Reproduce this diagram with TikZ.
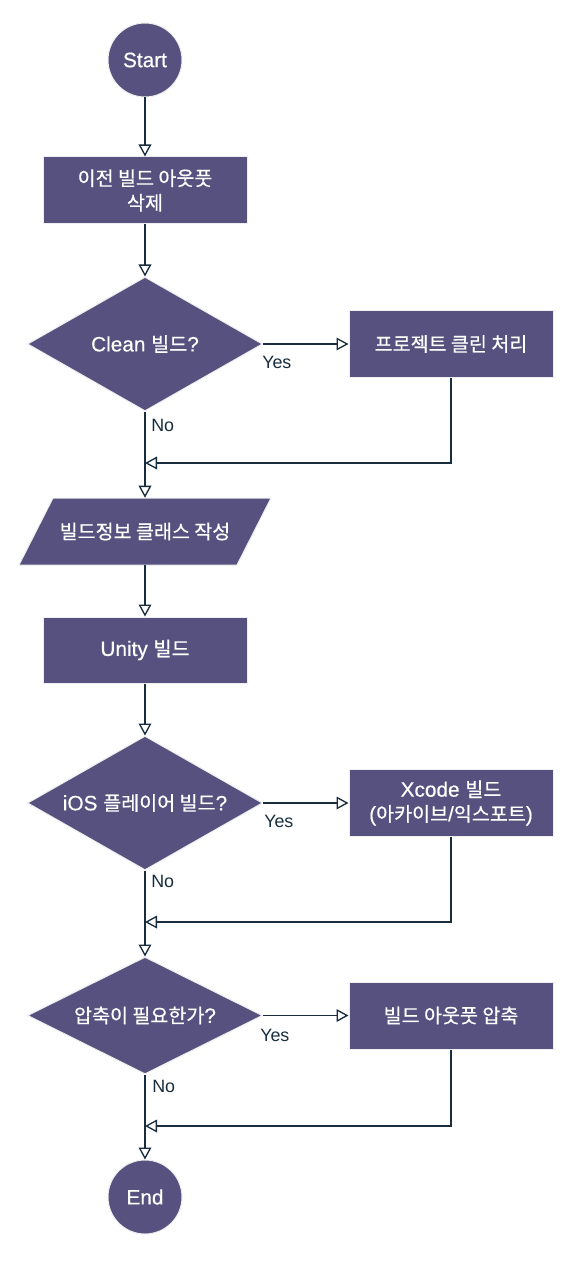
\documentclass[tikz,border=0pt]{standalone}
\usepackage{fontspec}
\setmainfont{Liberation Sans}
\newfontfamily\nodefont{Liberation Sans}[FakeBold=0.4]
\newfontfamily\kr{Noto Sans CJK KR}[Scale=0.94, FakeBold=0.6]
\usetikzlibrary{arrows.meta,shapes.geometric}
\definecolor{nodefill}{HTML}{56517E}
\definecolor{nodeline}{HTML}{EEEEEE}
\definecolor{edgecol}{HTML}{182E3E}
\begin{document}
\begin{tikzpicture}[x=0.75pt,y=-0.75pt,
 base/.style={fill=nodefill, draw=nodeline, line width=0.75pt, text=white,
   font=\nodefont\fontsize{15.6pt}{18.4pt}\selectfont, align=center, inner sep=0pt},
 stepbox/.style={base, rectangle, minimum width=153pt, minimum height=50.25pt},
 term/.style={base, circle, minimum size=55.5pt},
 decision/.style={base, diamond, minimum width=176.25pt},
 txtonly/.style={text=white, font=\nodefont\fontsize{15.6pt}{18.4pt}\selectfont, align=center,
   inner sep=0pt, minimum width=163pt, minimum height=50.25pt},
 lbl/.style={font=\fontsize{13.4pt}{16pt}\selectfont, text=edgecol, inner sep=0pt, anchor=west},
 arr/.style={draw=edgecol, line width=1pt, -{Triangle[open, length=9pt, width=9.5pt]}},
]
\useasboundingbox (0,0) rectangle (586,1266);
\fill[white] (0,0) rectangle (586,1266);

\node[term] (start) at (145,60) {Start};
\node[stepbox] (b1) at (145,190.5) {{\kr 이전 빌드 아웃풋}\\{\kr 삭제}};
\node[decision, aspect=1.75, minimum height=100.5pt] (d1) at (145,344) {Clean {\kr 빌드}?};
\node[stepbox] (b2) at (451,344) {{\kr 프로젝트 클린 처리}};

\filldraw[fill=nodefill, draw=nodeline, line width=0.75pt]
  (53,498) -- (271,498) -- (237,565) -- (19,565) -- cycle;
\node[txtonly] (info) at (145,531.5) {{\kr 빌드정보 클래스 작성}};

\node[stepbox, minimum height=49.5pt] (unity) at (145,650) {Unity {\kr 빌드}};
\node[decision, aspect=1.75, minimum height=100.5pt] (d2) at (145,803) {iOS {\kr 플레이어 빌드}?};
\node[stepbox] (b3) at (451,803) {Xcode {\kr 빌드}\\({\kr 아카이브}/{\kr 익스포트})};
\node[decision, aspect=2, minimum height=87.75pt] (d3) at (145,1015.5) {{\kr 압축이 필요한가}?};
\node[stepbox] (b4) at (451,1015.5) {{\kr 빌드 아웃풋 압축}};
\node[term] (end) at (145,1197) {End};

\node[lbl] (y1) at (262,362) {Yes};
\node[lbl] (n1) at (151,425) {No};
\node[lbl] (y2) at (264,821) {Yes};
\node[lbl] (n2) at (151,881) {No};
\node[lbl] (y3) at (260,1035) {Yes};
\node[lbl] (n3) at (152,1086) {No};

\coordinate (j1) at (145,463);
\coordinate (j2) at (145,922);
\coordinate (j3) at (145,1126);

\draw[arr] (start) -- (b1);
\draw[arr] (b1) -- (d1);
\draw[arr] (d1.east) -- (b2.west);
\draw[arr] (d1.south) -- (info.north);
\draw[arr] (b2.south) |- (j1);
\draw[arr] (info.south) -- (unity.north);
\draw[arr] (unity) -- (d2);
\draw[arr] (d2.east) -- (b3.west);
\draw[arr] (d2.south) -- (d3.north);
\draw[arr] (b3.south) |- (j2);
\draw[arr] (d3.east) -- (b4.west);
\draw[arr] (d3.south) -- (end.north);
\draw[arr] (b4.south) |- (j3);
\end{tikzpicture}
\end{document}
